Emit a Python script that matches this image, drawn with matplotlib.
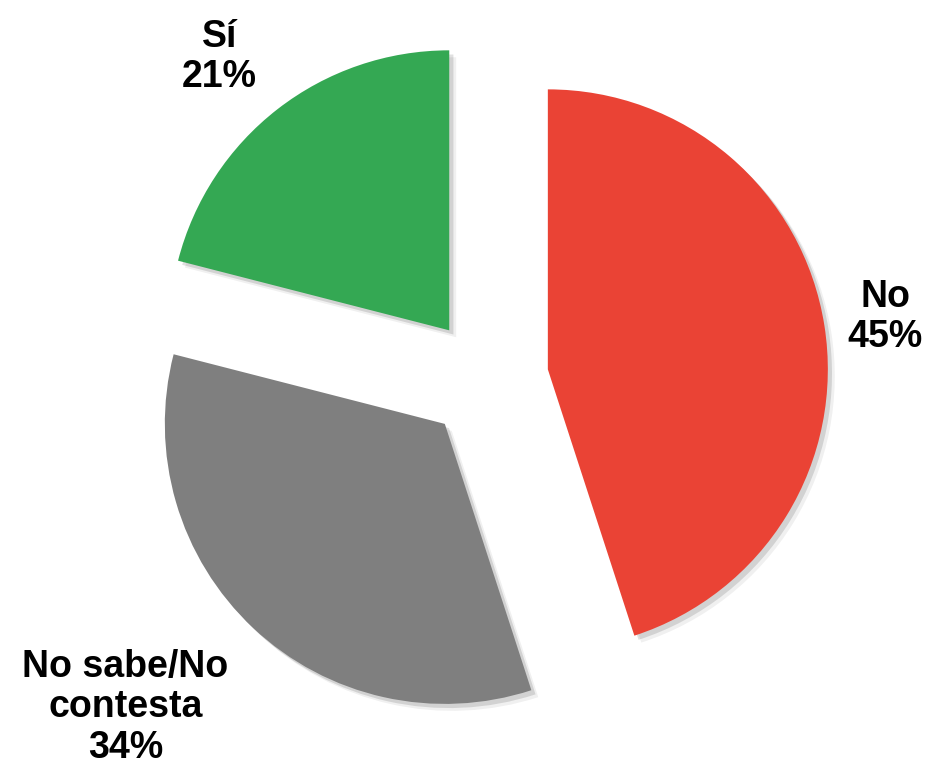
import numpy as np
import matplotlib.pyplot as plt
import matplotlib.patheffects as pe

# Survey answers, clockwise from the top
labels = ["No", "No sabe/No\ncontesta", "Sí"]
values = [45, 34, 21]
colors = ["#EA4335", "#7F7F7F", "#34A853"]

fig = plt.figure(figsize=(9.29, 7.65), dpi=100)
ax = fig.add_axes([0, 0, 1, 1])

radius = 280
wedges, _ = ax.pie(
    values,
    colors=colors,
    startangle=90,
    counterclock=False,
    center=(487, 386),
    radius=radius,
    # explode offset is in data units here
    explode=[0.22 * radius] * 3,
    frame=True,
)
ax.set_xlim(0, 929)
ax.set_ylim(0, 765)
ax.set_aspect("equal")
ax.axis("off")

# soft drop shadow
for w in wedges:
    w.set_path_effects([
        pe.SimplePatchShadow(offset=(5, -5), shadow_rgbFace="#000000", alpha=0.06),
        pe.SimplePatchShadow(offset=(3, -3), shadow_rgbFace="#000000", alpha=0.12),
        pe.Normal(),
    ])

# label position from each wedge tip: distance in radii, angle in degrees
label_dist = [1.22, 1.525, 1.275]
label_ang = [8.8, -138.4, 130.1]
for w, lab, val, d, a in zip(wedges, labels, values, label_dist, label_ang):
    ang = np.deg2rad(a)
    cx, cy = w.center
    x = cx + d * w.r * np.cos(ang)
    y = cy + d * w.r * np.sin(ang)
    ax.text(x, y, f"{lab}\n{val}%", ha="center", va="center",
            multialignment="center", fontsize=27, fontweight="bold",
            family=["Liberation Sans", "DejaVu Sans"], linespacing=1.15)

fig.savefig("out.png", dpi=100)
